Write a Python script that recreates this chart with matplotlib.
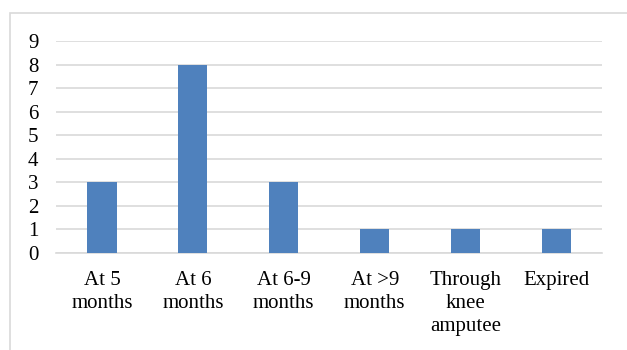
import matplotlib
matplotlib.use("Agg")
import matplotlib.pyplot as plt
from matplotlib.patches import Rectangle

categories = ["At 5\nmonths", "At 6\nmonths", "At 6-9\nmonths", "At >9\nmonths", "Through\nknee\namputee", "Expired"]
values = [3, 8, 3, 1, 1, 1]
yticks = list(range(0, 10))

W, H = 627, 350
fig = plt.figure(figsize=(W / 100, H / 100), dpi=100)
plt.rcParams['font.family'] = ['Liberation Serif', 'DejaVu Serif']

# outer chart border
fig.patches.append(Rectangle((10 / W, -0.1), 1.0, (H - 12.5) / H + 0.1, transform=fig.transFigure,
                             fill=False, edgecolor="#d9d9d9", linewidth=1.2))

ax = fig.add_axes([56.5 / W, 1 - 253 / H, (602 - 56.5) / W, (253 - 41.3) / H])
x = range(len(categories))
ax.bar(x, values, width=0.32, color="#4f81bd", zorder=3)
ax.set_xlim(-0.5, len(categories) - 0.5)
ax.set_ylim(0, 9)
ax.set_yticks(yticks)
ax.set_yticklabels([str(t) for t in yticks], fontsize=15)
ax.set_xticks(list(x))
ax.set_xticklabels(categories, fontsize=15, linespacing=1.28, va="top")
ax.tick_params(axis="both", length=0)
ax.tick_params(axis="y", pad=13)
ax.tick_params(axis="x", pad=13)
ax.grid(axis="y", color="#d9d9d9", linewidth=1.2, zorder=0)
for s in ["top", "right", "left"]:
    ax.spines[s].set_visible(False)
ax.spines["bottom"].set_color("#d9d9d9")
ax.spines["bottom"].set_linewidth(1.2)

fig.savefig("out.png", dpi=100)
